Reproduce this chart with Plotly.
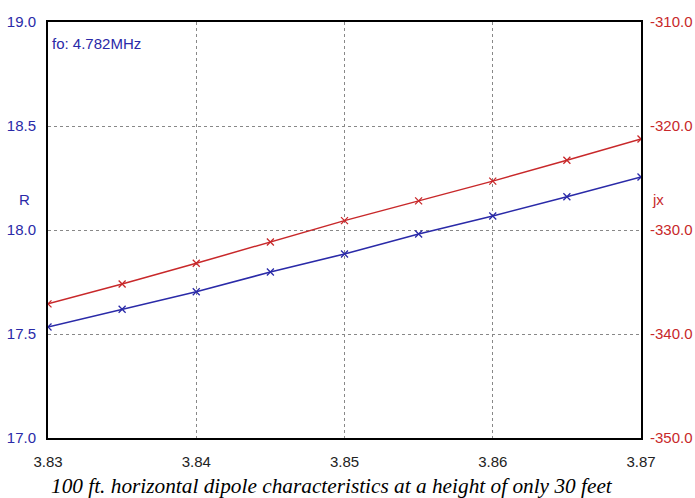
import plotly.graph_objects as go

freq = [3.83, 3.835, 3.84, 3.845, 3.85, 3.855, 3.86, 3.865, 3.87]
r_vals = [17.534, 17.619, 17.703, 17.798, 17.885, 17.981, 18.067, 18.160, 18.255]
jx_vals = [-337.1, -335.2, -333.2, -331.15, -329.1, -327.2, -325.3, -323.3, -321.25]
x_ticks = [3.83, 3.84, 3.85, 3.86, 3.87]
r_ticks = [17.0, 17.5, 18.0, 18.5, 19.0]
jx_ticks = [-350.0, -340.0, -330.0, -320.0, -310.0]

BLUE = "#2a2aa8"
RED = "#c8282a"

fig = go.Figure()
fig.add_trace(go.Scatter(x=freq, y=jx_vals, yaxis="y2", mode="lines+markers",
                         line=dict(color=RED, width=1.5),
                         marker=dict(symbol="x-thin", size=7, line=dict(color=RED, width=1.3)),
                         showlegend=False))
fig.add_trace(go.Scatter(x=freq, y=r_vals, mode="lines+markers",
                         line=dict(color=BLUE, width=1.5),
                         marker=dict(symbol="x-thin", size=7, line=dict(color=BLUE, width=1.3)),
                         showlegend=False))

font = "Liberation Sans, Arial, sans-serif"
fig.update_layout(
    width=695, height=498,
    margin=dict(l=48, r=54, t=22, b=60),
    paper_bgcolor="white", plot_bgcolor="white",
    font=dict(family=font, size=15, color="black"),
    xaxis=dict(range=[3.83, 3.87], tickvals=x_ticks, ticktext=[f"{v:.2f}" for v in x_ticks],
               showgrid=True, gridcolor="#888888", griddash="3px,3px", gridwidth=1,
               showline=True, linecolor="black", linewidth=2, mirror=True, automargin=False,
               zeroline=False, ticks="", tickfont=dict(color="#222222", size=15),
               ticklabelstandoff=9),
    yaxis=dict(range=[17.0, 19.0], tickvals=r_ticks, ticktext=[f"{v:.1f}" for v in r_ticks],
               showgrid=True, gridcolor="#888888", griddash="3px,3px", gridwidth=1,
               showline=True, linecolor="black", linewidth=2, mirror=True, automargin=False,
               zeroline=False, ticks="", tickfont=dict(color=BLUE, size=15),
               ticklabelstandoff=7),
    yaxis2=dict(range=[-350.0, -310.0], tickvals=jx_ticks, ticktext=[f"{v:.1f}" for v in jx_ticks],
                overlaying="y", side="right", showgrid=False, zeroline=False, automargin=False,
                showline=False, ticks="", tickfont=dict(color=RED, size=15),
                ticklabelstandoff=8),
    annotations=[
        dict(text="fo: 4.782MHz", xref="paper", yref="paper", x=0.003, y=0.9495,
             xanchor="left", yanchor="middle", showarrow=False,
             font=dict(color=BLUE, size=15, family=font)),
        dict(text="R", xref="paper", yref="paper", x=-0.027, y=0.5745,
             xanchor="right", yanchor="middle", showarrow=False,
             font=dict(color=BLUE, size=15, family=font)),
        dict(text="jx", xref="paper", yref="paper", x=1.015, y=0.5745,
             xanchor="left", yanchor="middle", showarrow=False,
             font=dict(color=RED, size=15, family=font)),
        dict(text="<i>100 ft. horizontal dipole characteristics at a height of only 30 feet</i>",
             xref="paper", yref="paper", x=0.479, y=-0.1154,
             xanchor="center", yanchor="middle", showarrow=False,
             font=dict(color="black", size=21.3, family="Liberation Serif, Times New Roman, serif")),
    ],
)

fig.write_html("out.html",
               config={"displayModeBar": False},
               post_script="document.body.style.margin='0';document.body.style.overflow='hidden';")
